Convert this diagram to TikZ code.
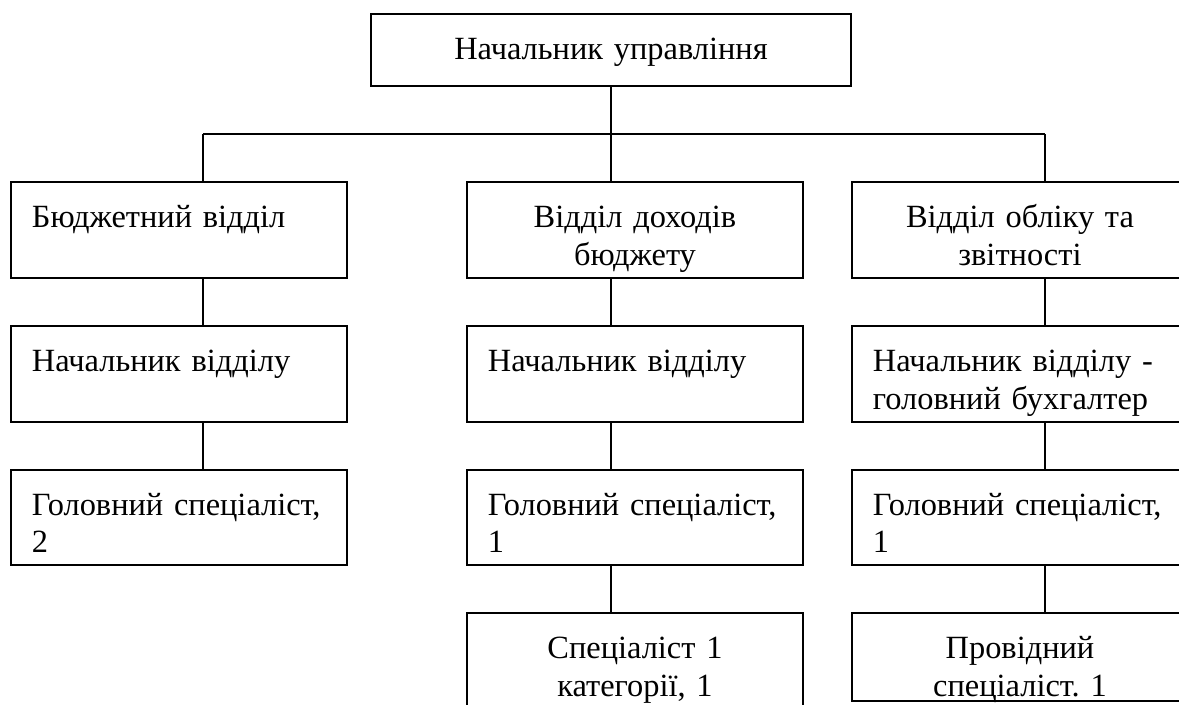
\documentclass[tikz,border=0pt]{standalone}
\usepackage{fontspec}
\setmainfont{Liberation Serif}
\frenchspacing
\usetikzlibrary{positioning}
\tikzset{
	dept/.style={draw, rectangle, line width=0.9pt, outer sep=0pt, inner xsep=9.3pt, inner ysep=0pt, text width=130.7pt, align=left, text height=20.2pt, text depth=22.4pt, font=\fontsize{14.4}{16.8}\selectfont},
	deptc/.style={dept, align=center},
	boss/.style={deptc, text width=194.7pt, text depth=11.8pt},
	link/.style={line width=0.7pt},
}
\begin{document}
\begin{tikzpicture}[x=0.4444pt, y=-0.4444pt]
	\useasboundingbox (0,0) rectangle (1179,704);
	\clip (0,0) rectangle (1179,704);
	
	\node (head) [boss, anchor=north west] at (371,14) {Начальник управління};
	
	\node (bud) [dept, anchor=north west] at (11,182) {Бюджетний відділ};
	\node (doh) [deptc, anchor=north west] at (467,182) {Відділ доходів\\бюджету};
	\node (obl) [deptc, anchor=north west] at (852,182) {Відділ обліку та\\звітності};
	
	\node (bud1) [dept, below=21.3pt of bud] {Начальник відділу};
	\node (bud2) [dept, below=21.3pt of bud1] {Головний спеціаліст,\\2};
	
	\node (doh1) [dept, below=21.3pt of doh] {Начальник відділу};
	\node (doh2) [dept, below=21.3pt of doh1] {Головний спеціаліст,\\1};
	\node (doh3) [deptc, below=21.3pt of doh2] {Спеціаліст 1\\категорії, 1};
	
	\node (obl1) [dept, below=21.3pt of obl] {Начальник відділу -\\головний бухгалтер};
	\node (obl2) [dept, below=21.3pt of obl1] {Головний спеціаліст,\\1};
	\node (obl3) [deptc, below=21.3pt of obl2, text depth=18.9pt] {Провідний\\спеціаліст. 1};
	
	% bus under the head
	\coordinate (busl) at (203,134);
	\coordinate (busm) at (611,134);
	\coordinate (busr) at (1045,134);
	
	\begin{scope}[link]
		\draw (head) -- (busm);
		\draw (busl) -- (busr);
		\draw (busl) -- (busl |- bud.north);
		\draw (busm) -- (busm |- doh.north);
		\draw (busr) -- (busr |- obl.north);
		
		\draw (bud.south -| busl) -- (busl |- bud1.north);
		\draw (bud1.south -| busl) -- (busl |- bud2.north);
		
		\draw (doh.south -| busm) -- (busm |- doh1.north);
		\draw (doh1.south -| busm) -- (busm |- doh2.north);
		\draw (doh2.south -| busm) -- (busm |- doh3.north);
		
		\draw (obl.south -| busr) -- (busr |- obl1.north);
		\draw (obl1.south -| busr) -- (busr |- obl2.north);
		\draw (obl2.south -| busr) -- (busr |- obl3.north);
	\end{scope}
	
\end{tikzpicture}
\end{document}
